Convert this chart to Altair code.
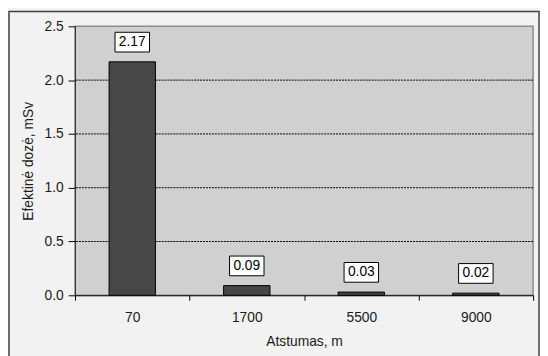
import altair as alt
import pandas as pd

distances = ["70", "1700", "5500", "9000"]
doses = [2.17, 0.09, 0.03, 0.02]
grid_values = [0.5, 1.0, 1.5, 2.0]
y_ticks = [0.0, 0.5, 1.0, 1.5, 2.0, 2.5]

df = pd.DataFrame({"dist": distances, "dose": doses})
grid_df = pd.DataFrame({"g": grid_values})
frame_df = pd.DataFrame({"a": [0]})

FONT = "Liberation Sans"

x_enc = alt.X(
    "dist:N",
    sort=distances,
    scale=alt.Scale(paddingInner=0, paddingOuter=0),
    axis=alt.Axis(
        title="Atstumas, m",
        labelAngle=0,
        tickBand="extent",
        tickSize=5,
        labelPadding=11,
        titlePadding=10,
        domainColor="#000000",
        tickColor="#000000",
    ),
)
y_scale = alt.Scale(domain=[0, 2.5], nice=False)
y_axis = alt.Axis(
    title="Efektinė dozė, mSv",
    values=y_ticks,
    format=".1f",
    grid=False,
    tickSize=7,
    labelPadding=5,
    titlePadding=9,
    domainColor="#333333",
    tickColor="#000000",
)

grid = alt.Chart(grid_df).mark_rule(color="#000000", strokeDash=[2, 1], strokeWidth=1).encode(
    y=alt.Y("g:Q", scale=y_scale, axis=y_axis)
)

bars = alt.Chart(df).mark_bar(
    width={"band": 0.405}, color="#474747", stroke="#000000", strokeWidth=1
).encode(
    x=x_enc,
    y=alt.Y("dose:Q", scale=y_scale, axis=y_axis),
)

boxes = alt.Chart(df).mark_bar(
    width=35, fill="#FFFFFF", stroke="#000000", strokeWidth=1, yOffset=-30, y2Offset=-10
).encode(
    x=x_enc,
    y=alt.Y("dose:Q", scale=y_scale, axis=y_axis),
    y2=alt.Y2("dose:Q"),
)

labels = alt.Chart(df).mark_text(
    dy=-20, baseline="middle", align="center", fontSize=14, font=FONT, color="#000000"
).encode(
    x=x_enc,
    y=alt.Y("dose:Q", scale=y_scale, axis=y_axis),
    text=alt.Text("dose:Q", format=".2f"),
)

frame = alt.Chart(frame_df).mark_rect(fill=None, stroke="#404040", strokeWidth=1.5).encode(
    x=alt.value(-67), x2=alt.value(471), y=alt.value(-15), y2=alt.value(345)
)

chart = alt.layer(frame, grid, bars, boxes, labels).properties(
    width=465,
    height=273,
    padding={"left": 68, "top": 16, "right": 7, "bottom": 59},
    autosize=alt.AutoSizeParams(type="none"),
).configure(
    background="#F2F2F2",
    font=FONT,
).configure_view(
    fill="#D0D0D0", stroke="#8C8C8C", strokeWidth=1.5
).configure_axis(
    labelFont=FONT, titleFont=FONT, labelFontSize=14, titleFontSize=14,
    labelColor="#1a1a1a", titleColor="#1a1a1a", titleFontWeight="normal",
)

chart.save("out.html", embed_options={"renderer": "svg", "actions": False})
